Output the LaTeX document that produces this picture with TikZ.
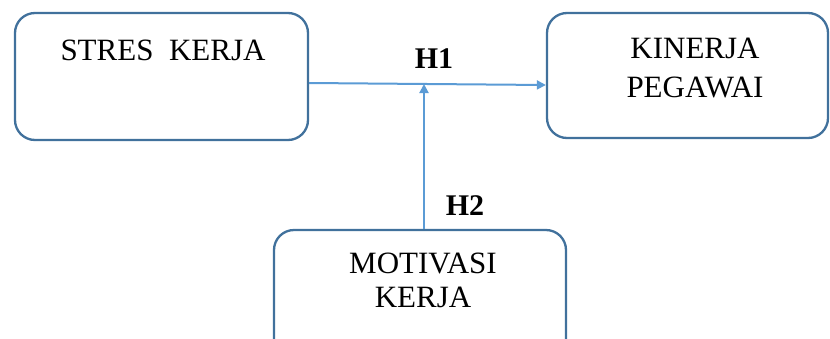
\documentclass[tikz,border=0pt]{standalone}
\usepackage{fontspec}
\setmainfont{Liberation Serif}
\usetikzlibrary{arrows.meta}
\definecolor{boxline}{HTML}{41719C}
\definecolor{arrowc}{HTML}{5B9BD5}
\tikzset{
  varbox/.style={draw=boxline, line width=2.3pt, rounded corners=20pt, fill=white, inner sep=0pt},
  vartext/.style={anchor=base, inner sep=0pt, font=\fontsize{31}{37}\selectfont},
  hyp/.style={anchor=base, inner sep=0pt, font=\fontsize{30}{36}\selectfont\bfseries},
  conn/.style={draw=arrowc, line width=2pt, -{Triangle[length=9pt,width=9pt]}}
}
\begin{document}
\begin{tikzpicture}[x=1pt,y=-1pt]
\useasboundingbox (0,0) rectangle (830,338);
\clip (0,0) rectangle (830,338);
% boxes
\node[varbox, minimum width=293pt, minimum height=127pt] (stres) at (161.5,76.5) {};
\node[varbox, minimum width=281pt, minimum height=125pt] (kinerja) at (687.5,75.5) {};
\node[varbox, minimum width=292pt, minimum height=140pt] (motivasi) at (420,300) {};
% texts
\node[vartext] (t1) at (163,60) {STRES\ \ KERJA};
\node[vartext] (t2a) at (695,58) {KINERJA};
\node[vartext] (t2b) at (695,97) {PEGAWAI};
\node[vartext] (t3a) at (423,273) {MOTIVASI};
\node[vartext] (t3b) at (423,307) {KERJA};
\node[hyp] (h1) at (434,68) {H1};
\node[hyp] (h2) at (465,215) {H2};
% connectors
\coordinate (vend) at (424,84);
\draw[conn] ([yshift=-6.5pt]stres.east) -- ([yshift=-9.5pt]kinerja.west);
\draw[conn] (motivasi.north -| vend) -- (vend);
\end{tikzpicture}
\end{document}
